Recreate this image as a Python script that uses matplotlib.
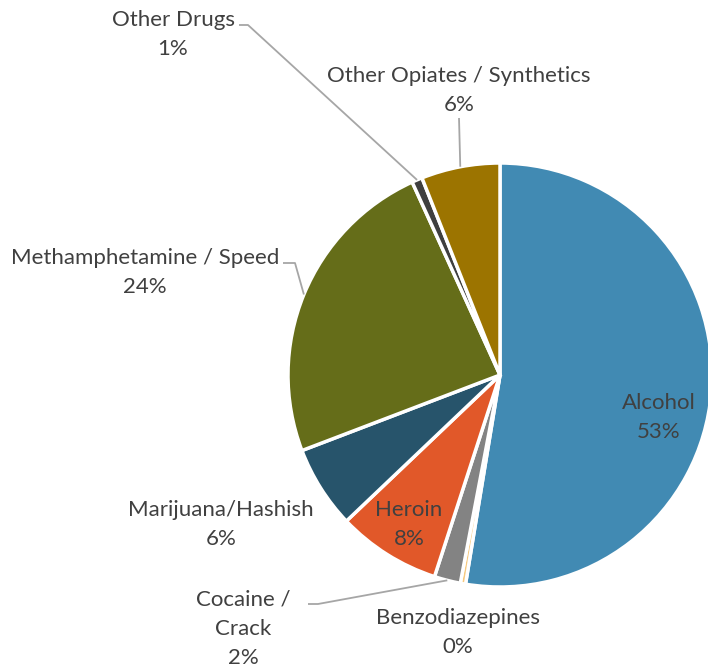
"""
Pie chart: primary substance at admission (share of admissions).
Saves out.png (708x670).
"""

import numpy as np
import matplotlib.pyplot as plt

# Data, clockwise from 12 o'clock
categories = [
    "Alcohol",
    "Benzodiazepines",
    "Cocaine /\nCrack",
    "Heroin",
    "Marijuana/Hashish",
    "Methamphetamine / Speed",
    "Other Drugs",
    "Other Opiates / Synthetics",
]
shares = [52.6, 0.4, 2.0, 7.9, 6.3, 24.0, 0.8, 6.0]
colors = ["#418AB3", "#F6C97E", "#838383", "#E15829",
          "#27546B", "#656D19", "#3F3F3F", "#9C7400"]

# layout (pixels, y measured from top)
W, H = 708, 670
CX, CY, R = 500, 375, 212
TEXT = "#404040"
LEAD = "#A6A6A6"

# label anchor (pixel x, pixel y of line 1 centre) and leader elbow (or None)
label_pos = {
    "Alcohol": ((659, 401), None),
    "Benzodiazepines": ((458, 616), None),
    "Cocaine /\nCrack": ((243, 598), (308, 604, 318)),
    "Heroin": ((409, 508), None),
    "Marijuana/Hashish": ((221, 508), None),
    "Methamphetamine / Speed": ((145, 256), (283, 263, 295)),
    "Other Drugs": ((173, 18), (239, 25, 248)),
    "Other Opiates / Synthetics": ((459, 74), (459, 118, None)),
}


def main():
    plt.rcParams["font.family"] = ["Lato", "DejaVu Sans"]
    fig = plt.figure(figsize=(W / 100, H / 100), dpi=100)
    ax = fig.add_axes([0, 0, 1, 1])

    wedges, _ = ax.pie(
        shares, colors=colors, startangle=90, counterclock=False,
        center=(CX, H - CY), radius=R,
        wedgeprops=dict(edgecolor="white", linewidth=2.5),
    )
    ax.set_xlim(0, W)
    ax.set_ylim(0, H)
    ax.set_aspect("equal")
    ax.axis("off")

    for w, name, val in zip(wedges, categories, shares):
        (tx, ty), lead = label_pos[name]
        ax.text(tx, H - ty + 8, f"{name}\n{val:.0f}%", ha="center", va="top",
                fontsize=16, color=TEXT, linespacing=1.56)
        if lead is None:
            continue
        # end point on the wedge edge at its mid angle
        mid = np.deg2rad((w.theta1 + w.theta2) / 2)
        ex = CX + R * np.cos(mid)
        ey = H - CY + R * np.sin(mid)
        x0, y0, x1 = lead
        if x1 is None:
            xs, ys = [x0, ex], [H - y0, ey]
        else:
            xs, ys = [x0, x1, ex], [H - y0, H - y0, ey]
        ax.plot(xs, ys, color=LEAD, lw=1.3, solid_capstyle="butt")

    fig.savefig("out.png", dpi=100)
    plt.close(fig)


if __name__ == "__main__":
    main()
